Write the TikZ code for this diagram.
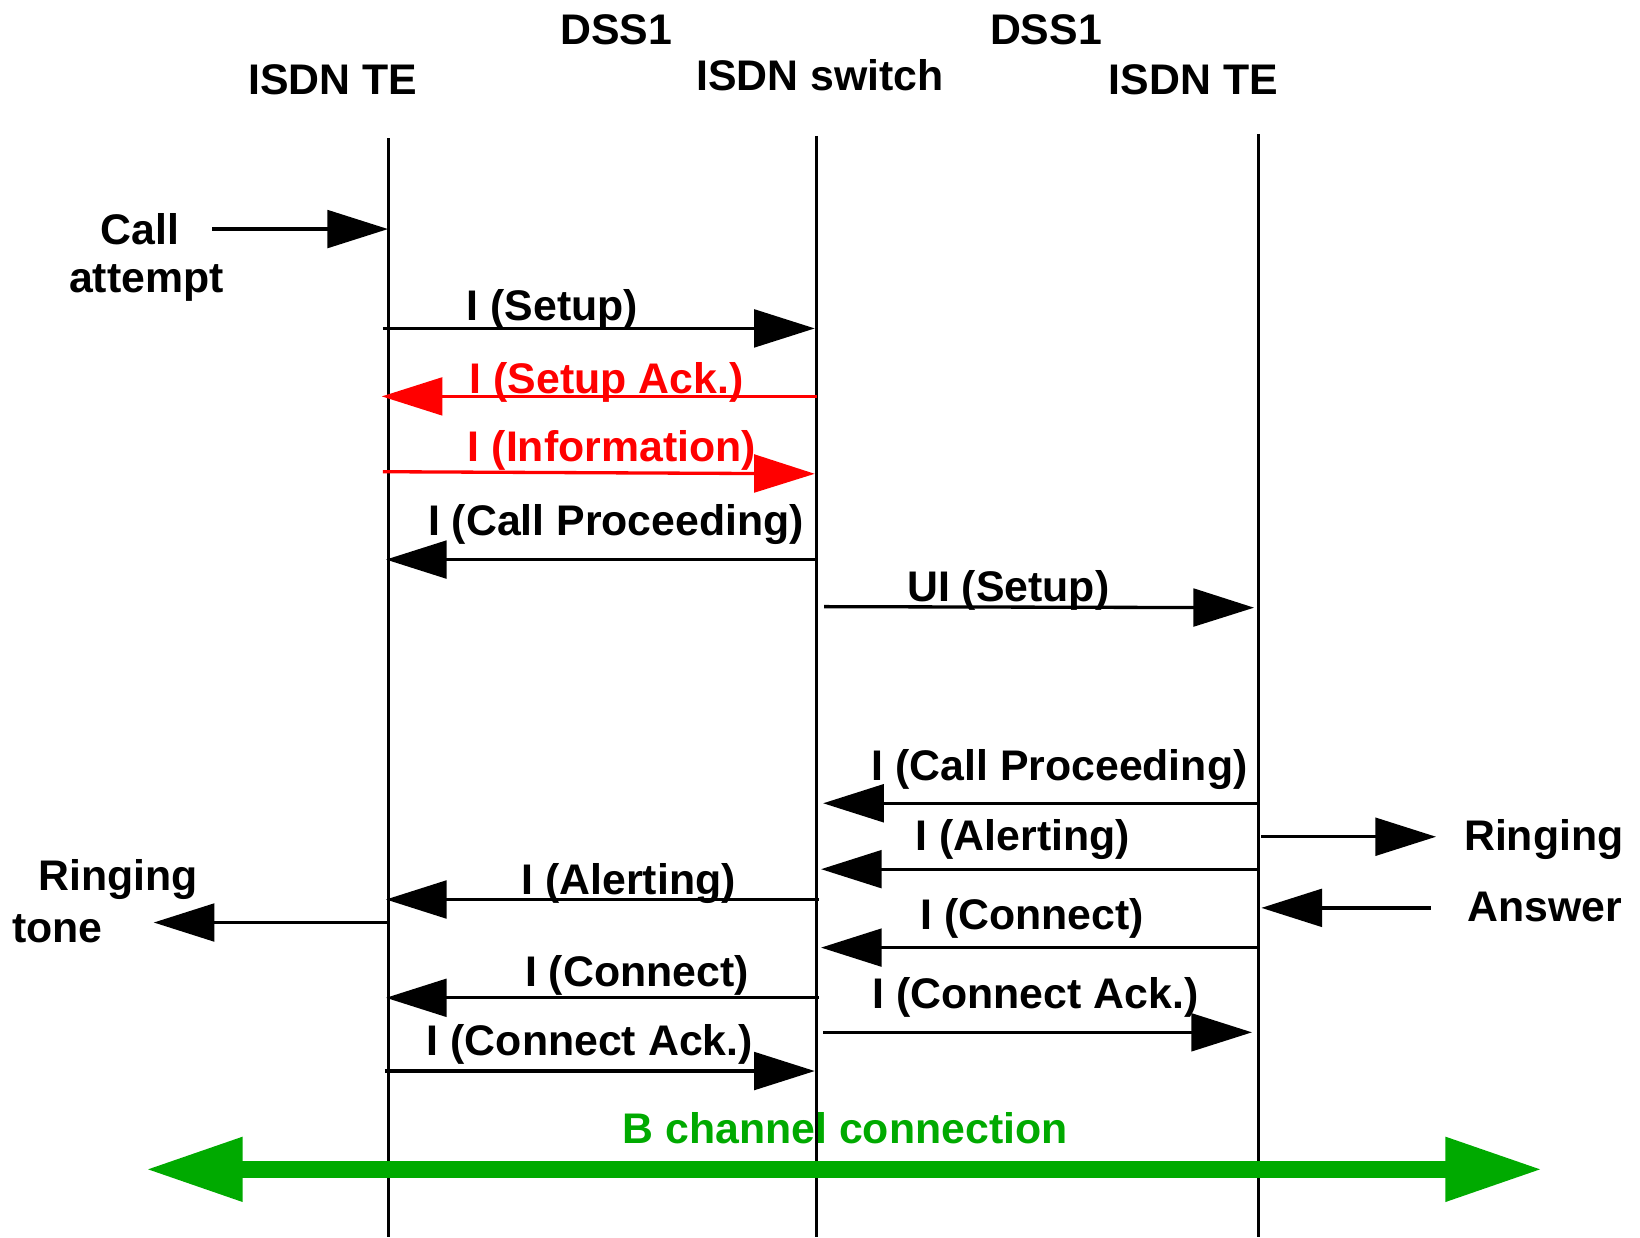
\documentclass[tikz,border=0pt]{standalone}
\usepackage{fontspec}
\setmainfont{Liberation Sans}
\usetikzlibrary{arrows.meta}
\definecolor{sigred}{RGB}{255,0,0}
\definecolor{bgreen}{RGB}{0,170,0}
\begin{document}
\begin{tikzpicture}[x=0.02cm,y=-0.02cm,
  lbl/.style={font=\fontsize{23.3}{27}\selectfont\bfseries, inner sep=0pt, anchor=base},
  life/.style={line width=1.6pt},
  msg/.style={line width=1.8pt, -{Triangle[length=1.16cm,width=0.72cm]}},
  redmsg/.style={msg, draw=sigred, color=sigred},
  bchan/.style={line width=0.32cm, draw=bgreen, {Triangle[length=1.86cm,width=1.15cm]}-{Triangle[length=1.86cm,width=1.15cm]}}]
\useasboundingbox (0,0) rectangle (1568,1183);

% column headings
\node[lbl] (dssA) at (589,43) {DSS1};
\node[lbl] (dssB) at (1000,43) {DSS1};
\node[lbl] (teA) at (318,90) {ISDN TE};
\node[lbl] (sw) at (784,87) {ISDN switch};
\node[lbl] (teB) at (1141,90) {ISDN TE};

% lifelines
\coordinate (LAt) at (371,132); \coordinate (LAb) at (371,1183);
\coordinate (LSt) at (781,130); \coordinate (LSb) at (781,1183);
\coordinate (LBt) at (1203,128); \coordinate (LBb) at (1203,1183);
\draw[life] (LAt) -- (LAb);
\draw[life] (LSt) -- (LSb);
\draw[life] (LBt) -- (LBb);

% local events at the terminals
\node[lbl] (call) at (134,234) {Call};
\node[lbl] (attempt) at (140,280) {attempt};
\coordinate (callS) at (203,219); \coordinate (callE) at (371,219);
\draw[msg] (callS) -- (callE);

\node[lbl] (ringB) at (1476,813) {Ringing};
\coordinate (ringS) at (1206,800); \coordinate (ringE) at (1373,800);
\draw[msg] (ringS) -- (ringE);

\node[lbl] (answer) at (1477,881) {Answer};
\coordinate (ansS) at (1368,868); \coordinate (ansE) at (1206,868);
\draw[msg] (ansS) -- (ansE);

\node[lbl] (ringA) at (113,851) {Ringing};
\node[lbl] (tone) at (55,901) {tone};
\coordinate (toneS) at (370,882); \coordinate (toneE) at (147,882);
\draw[msg] (toneS) -- (toneE);

% calling side: TE <-> switch
\node[lbl] (m1) at (528,306) {I (Setup)};
\coordinate (m1s) at (366,314); \coordinate (m1e) at (779,314);
\draw[msg] (m1s) -- (m1e);

\node[lbl, text=sigred] (m2) at (580,376) {I (Setup Ack.)};
\coordinate (m2s) at (781,379); \coordinate (m2e) at (365,379);
\draw[redmsg] (m2s) -- (m2e);

\node[lbl, text=sigred] (m3) at (585,441) {I (Information)};
\coordinate (m3s) at (366,451); \coordinate (m3e) at (779,453);
\draw[redmsg] (m3s) -- (m3e);

\node[lbl] (m4) at (589,512) {I (Call Proceeding)};
\coordinate (m4s) at (780,535); \coordinate (m4e) at (369,535);
\draw[msg] (m4s) -- (m4e);

% called side: switch <-> TE
\node[lbl] (m5) at (964,575) {UI (Setup)};
\coordinate (m5s) at (788,580); \coordinate (m5e) at (1199,581);
\draw[msg] (m5s) -- (m5e);

\node[lbl] (m6) at (1013,746) {I (Call Proceeding)};
\coordinate (m6s) at (1202,768); \coordinate (m6e) at (787,768);
\draw[msg] (m6s) -- (m6e);

\node[lbl] (m7) at (978,813) {I (Alerting)};
\coordinate (m7s) at (1202,831); \coordinate (m7e) at (785,831);
\draw[msg] (m7s) -- (m7e);

\node[lbl] (m8) at (601,855) {I (Alerting)};
\coordinate (m8s) at (783,860); \coordinate (m8e) at (369,860);
\draw[msg] (m8s) -- (m8e);

\node[lbl] (m9) at (987,889) {I (Connect)};
\coordinate (m9s) at (1202,906); \coordinate (m9e) at (785,906);
\draw[msg] (m9s) -- (m9e);

\node[lbl] (m10) at (609,943) {I (Connect)};
\coordinate (m10s) at (783,954); \coordinate (m10e) at (369,954);
\draw[msg] (m10s) -- (m10e);

\node[lbl] (m11) at (990,964) {I (Connect Ack.)};
\coordinate (m11s) at (787,987); \coordinate (m11e) at (1197,987);
\draw[msg] (m11s) -- (m11e);

\node[lbl] (m12) at (564,1009) {I (Connect Ack.)};
\coordinate (m12s) at (368,1024); \coordinate (m12e) at (779,1024);
\draw[msg] (m12s) -- (m12e);

% bearer channel
\node[lbl, text=bgreen] (bc) at (808,1093) {B channel connection};
\coordinate (bcL) at (139,1118); \coordinate (bcR) at (1475,1118);
\draw[bchan] (bcL) -- (bcR);
\end{tikzpicture}
\end{document}
